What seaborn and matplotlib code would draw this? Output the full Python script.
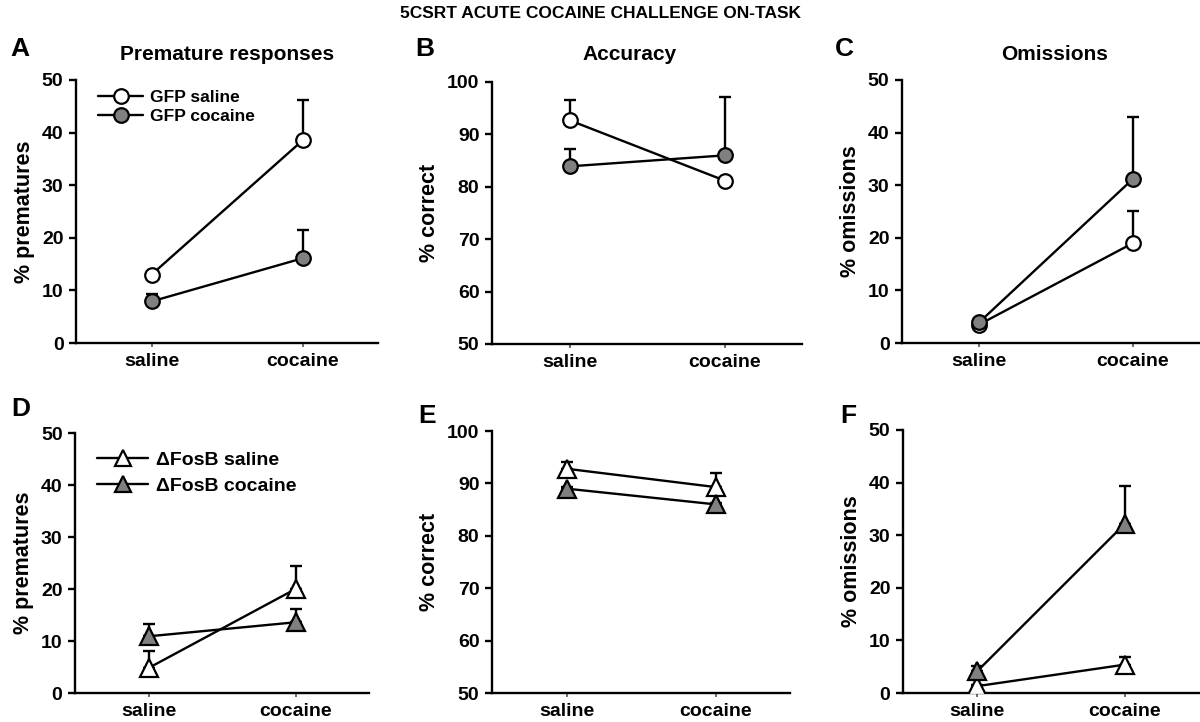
import matplotlib
matplotlib.use("Agg")
import matplotlib.pyplot as plt
import seaborn as sns
import numpy as np
import pandas as pd

sns.set_theme(style="ticks")
plt.rcParams['font.family'] = ['Liberation Sans', 'DejaVu Sans']
plt.rcParams['font.weight'] = 'bold'
plt.rcParams['text.color'] = 'black'
plt.rcParams['axes.labelcolor'] = 'black'

conditions = ["saline", "cocaine"]

# Top row: GFP
gfp_saline_prem = [13.0, 38.5]
gfp_saline_prem_err = [0.3, 7.7]
gfp_cocaine_prem = [7.9, 16.1]
gfp_cocaine_prem_err = [1.4, 5.4]

gfp_saline_acc = [92.7, 81.2]
gfp_saline_acc_err = [3.9, 0.3]
gfp_cocaine_acc = [83.9, 86.0]
gfp_cocaine_acc_err = [3.4, 11.1]

gfp_saline_om = [3.5, 19.0]
gfp_saline_om_err = [0.2, 6.1]
gfp_cocaine_om = [3.9, 31.2]
gfp_cocaine_om_err = [0.2, 11.8]

# Bottom row: deltaFosB
fosb_saline_prem = [4.8, 20.0]
fosb_saline_prem_err = [3.2, 4.4]
fosb_cocaine_prem = [10.9, 13.6]
fosb_cocaine_prem_err = [2.4, 2.6]

fosb_saline_acc = [92.8, 89.3]
fosb_saline_acc_err = [1.3, 2.7]
fosb_cocaine_acc = [89.0, 86.0]
fosb_cocaine_acc_err = [0.3, 0.3]

fosb_saline_om = [1.3, 5.4]
fosb_saline_om_err = [0.2, 1.4]
fosb_cocaine_om = [4.1, 32.2]
fosb_cocaine_om_err = [1.0, 7.2]

W, H = 1200, 722
fig = plt.figure(figsize=(12, 7.22), dpi=100)

def rect(l, r, t, b):
    return [l / W, 1 - b / H, (r - l) / W, (b - t) / H]

GRAY = "#808080"
x = np.arange(len(conditions))

def draw(ax, series, marker, ylim, ylabel, ms):
    for vals, errs, face, z in series:
        ax.errorbar(x, vals, yerr=[np.zeros(len(errs)), errs], fmt='none',
                    ecolor='black', elinewidth=1.7, capsize=4, capthick=1.7, zorder=2)
    for vals, errs, face, z in series:
        df = pd.DataFrame({"x": x, "y": vals})
        sns.lineplot(data=df, x="x", y="y", ax=ax, color='black', linewidth=1.7,
                     marker=marker, markersize=ms, markerfacecolor=face,
                     markeredgecolor='black', markeredgewidth=1.6, zorder=z)
    ax.set_xlim(-0.5, 1.5)
    ax.set_ylim(*ylim)
    ax.set_yticks(np.arange(ylim[0], ylim[1] + 1, 10))
    ax.set_xticks(x)
    ax.set_xticklabels(conditions, fontsize=14, fontweight='bold')
    for lab in ax.get_yticklabels():
        lab.set_fontsize(14)
        lab.set_fontweight('bold')
    ax.set_xlabel("")
    ax.set_ylabel(ylabel, fontsize=15.5, fontweight='bold', labelpad=5, color='black')
    sns.despine(ax=ax)
    for s in ['left', 'bottom']:
        ax.spines[s].set_linewidth(1.7)
        ax.spines[s].set_color('black')
    ax.tick_params(axis='y', width=1.7, length=5, color='black', labelcolor='black', pad=4)
    ax.tick_params(axis='x', width=1.2, length=3, color='#555555', labelcolor='black', pad=4)
    ax.patch.set_alpha(0)

axA = fig.add_axes(rect(76, 378, 80, 343))
axB = fig.add_axes(rect(492, 802, 82, 344))
axC = fig.add_axes(rect(902, 1210, 80, 343))
axD = fig.add_axes(rect(75, 369, 433, 693))
axE = fig.add_axes(rect(492, 790, 431, 693))
axF = fig.add_axes(rect(903, 1199, 430, 693))

draw(axA, [(gfp_saline_prem, gfp_saline_prem_err, 'white', 3),
           (gfp_cocaine_prem, gfp_cocaine_prem_err, GRAY, 4)], 'o', (0, 50), "% prematures", 10.5)
draw(axB, [(gfp_saline_acc, gfp_saline_acc_err, 'white', 3),
           (gfp_cocaine_acc, gfp_cocaine_acc_err, GRAY, 4)], 'o', (50, 100), "% correct", 10.5)
draw(axC, [(gfp_saline_om, gfp_saline_om_err, 'white', 3),
           (gfp_cocaine_om, gfp_cocaine_om_err, GRAY, 4)], 'o', (0, 50), "% omissions", 10.5)
draw(axD, [(fosb_saline_prem, fosb_saline_prem_err, 'white', 3),
           (fosb_cocaine_prem, fosb_cocaine_prem_err, GRAY, 4)], '^', (0, 50), "% prematures", 12.5)
draw(axE, [(fosb_saline_acc, fosb_saline_acc_err, 'white', 3),
           (fosb_cocaine_acc, fosb_cocaine_acc_err, GRAY, 4)], '^', (50, 100), "% correct", 12.5)
draw(axF, [(fosb_saline_om, fosb_saline_om_err, 'white', 3),
           (fosb_cocaine_om, fosb_cocaine_om_err, GRAY, 4)], '^', (0, 50), "% omissions", 12.5)

from matplotlib.lines import Line2D
def legend(ax, marker, labels, ms, spacing, anchor, size):
    hs = [Line2D([0], [0], color='black', lw=1.7, marker=marker, markersize=ms,
                 markerfacecolor=f, markeredgecolor='black', markeredgewidth=1.6)
          for f in ['white', GRAY]]
    ax.legend(hs, labels, loc='upper left', bbox_to_anchor=anchor, frameon=False,
              handlelength=2.6, handletextpad=0.4, labelspacing=spacing,
              prop={'weight': 'bold', 'size': size}, borderaxespad=0, labelcolor='black')

legend(axA, 'o', ["GFP saline", "GFP cocaine"], 10.5, 0.25, (0.05, 0.99), 12.5)
legend(axD, '^', ["\u0394FosB saline", "\u0394FosB cocaine"], 12, 0.45, (0.05, 0.96), 14)

def ftext(px, py, s, size, ha='left'):
    fig.text(px / W, 1 - py / H, s, fontsize=size, fontweight='bold', ha=ha, va='center',
             color='black')

ftext(600, 13, "5CSRT ACUTE COCAINE CHALLENGE ON-TASK", 12.5, ha='center')
ftext(227, 55, "Premature responses", 15, ha='center')
ftext(630, 55, "Accuracy", 15, ha='center')
ftext(1055, 55, "Omissions", 15, ha='center')
ftext(10, 49, "A", 19)
ftext(415, 49, "B", 19)
ftext(835, 49, "C", 19)
ftext(11, 409, "D", 19)
ftext(418, 416, "E", 19)
ftext(840, 416, "F", 19)

fig.savefig("out.png", dpi=100)
